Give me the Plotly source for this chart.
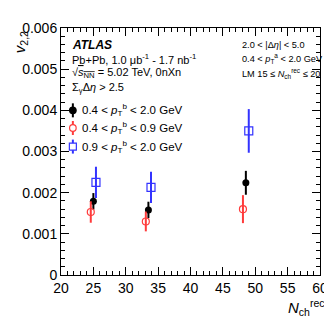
import plotly.graph_objects as go

# Data
series_names = [
    "0.4 < <i>p</i><sub>T</sub><sup>b</sup> < 2.0 GeV",
    "0.4 < <i>p</i><sub>T</sub><sup>b</sup> < 0.9 GeV",
    "0.9 < <i>p</i><sub>T</sub><sup>b</sup> < 2.0 GeV",
]
x_all = [25.0, 33.5, 48.55]
y_all = [0.00179, 0.00158, 0.00224]
e_all = [0.00020, 0.00020, 0.00029]

x_low = [24.6, 33.1, 48.1]
y_low = [0.00153, 0.00130, 0.00160]
e_low = [0.00026, 0.00024, 0.00034]

x_high = [25.4, 33.9, 49.0]
y_high = [0.00225, 0.00213, 0.00350]
e_high = [0.00038, 0.00038, 0.00053]

x_ticks = [20, 25, 30, 35, 40, 45, 50, 55, 60]
y_ticks = [0, 0.001, 0.002, 0.003, 0.004, 0.005, 0.006]
y_tick_labels = ["0", "0.001", "0.002", "0.003", "0.004", "0.005", "0.006"]

FONT = "Liberation Sans, Arial, sans-serif"
RED = "#ff3b3b"
BLUE = "#3333ff"
COLORS = ["black", RED, BLUE]

fig = go.Figure()
fig.add_trace(go.Scatter(
    x=x_all, y=y_all, mode="markers", name=series_names[0], showlegend=False,
    marker=dict(symbol="circle", size=7, color="black"),
    error_y=dict(type="data", array=e_all, width=0, thickness=2, color="black"),
))
fig.add_trace(go.Scatter(
    x=x_low, y=y_low, mode="markers", name=series_names[1], showlegend=False,
    marker=dict(symbol="circle-open", size=7, color=RED, line=dict(width=1.2, color=RED)),
    error_y=dict(type="data", array=e_low, width=0, thickness=2, color=RED),
))
fig.add_trace(go.Scatter(
    x=x_high, y=y_high, mode="markers", name=series_names[2], showlegend=False,
    marker=dict(symbol="square-open", size=8, color=BLUE, line=dict(width=1.2, color=BLUE)),
    error_y=dict(type="data", array=e_high, width=0, thickness=2, color=BLUE),
))

axis_common = dict(
    showgrid=False, zeroline=False, showline=True, linecolor="black", linewidth=1,
    mirror="ticks", ticks="inside", ticklen=8, tickcolor="black",
    tickfont=dict(family=FONT, size=14, color="black"),
)
fig.update_xaxes(range=[20, 60], tickvals=x_ticks,
                 minor=dict(dtick=1, ticks="inside", ticklen=4, tickcolor="black"),
                 **axis_common)
fig.update_yaxes(range=[0, 0.006], tickvals=y_ticks, ticktext=y_tick_labels,
                 minor=dict(dtick=0.0002, ticks="inside", ticklen=4, tickcolor="black"),
                 **axis_common)

def px(xp, yp):
    return (xp - 53) / 262, (267 - yp) / 252

ann = []
def add_text(text, xp, yp, size=11, xanchor="left", color="black"):
    x, y = px(xp, yp)
    ann.append(dict(text=text, x=x, y=y, xref="paper", yref="paper", showarrow=False,
                    xanchor=xanchor, yanchor="middle",
                    font=dict(family=FONT, size=size, color=color)))

add_text("<b><i>ATLAS</i></b>", 62, 32, size=12)
add_text("Pb+Pb, 1.0 μb<sup>-1</sup> - 1.7 nb<sup>-1</sup>", 62, 47, size=11)
add_text("√<span style='text-decoration:overline'><i>s</i><sub>NN</sub></span> = 5.02 TeV, 0nXn", 62, 61, size=11)
add_text("Σ<sub>γ</sub>Δ<i>η</i> > 2.5", 62, 76, size=11)
add_text("2.0 < |Δ<i>η</i>| < 5.0", 234, 32, size=9.2)
add_text("0.4 < <i>p</i><sub>T</sub><sup>a</sup> < 2.0 GeV", 234, 46, size=9.2)
add_text("LM 15 ≤ <i>N</i><sub>ch</sub><sup>rec</sup> ≤ 20", 234, 61, size=9.2)

# legend (manual keys + texts)
leg_y = [99, 117, 136]
symbols = ["circle-filled", "circle-open", "square-open"]
shapes = []
for name, yp, col, sym in zip(series_names, leg_y, COLORS, symbols):
    add_text(name, 72, yp, size=11.5)
    kx, ky = px(65, yp)
    shapes.append(dict(type="line", xref="paper", yref="paper", xsizemode="pixel", ysizemode="pixel",
                       xanchor=kx, yanchor=ky, x0=0, x1=0, y0=-7, y1=7,
                       line=dict(color=col, width=2)))
    if sym == "square-open":
        shapes.append(dict(type="rect", xref="paper", yref="paper", xsizemode="pixel", ysizemode="pixel",
                           xanchor=kx, yanchor=ky, x0=-3.5, x1=3.5, y0=-3.5, y1=3.5,
                           fillcolor="white", line=dict(color=col, width=1.2)))
    else:
        shapes.append(dict(type="circle", xref="paper", yref="paper", xsizemode="pixel", ysizemode="pixel",
                           xanchor=kx, yanchor=ky, x0=-3.3, x1=3.3, y0=-3.3, y1=3.3,
                           fillcolor=("black" if sym == "circle-filled" else "white"),
                           line=dict(color=col, width=1.2)))

# axis titles
x, y = px(12, 29)
ann.append(dict(text="<i>v</i><sub>2,2</sub>", x=x, y=y, xref="paper", yref="paper",
                showarrow=False, textangle=-90, xanchor="center", yanchor="middle",
                font=dict(family=FONT, size=15, color="black")))
x, y = px(301, 300)
ann.append(dict(text="<i>N</i><sub>ch</sub><sup>rec</sup>", x=x, y=y, xref="paper", yref="paper",
                showarrow=False, xanchor="center", yanchor="middle",
                font=dict(family=FONT, size=15, color="black")))

fig.update_layout(
    width=332, height=319,
    margin=dict(l=53, r=17, t=15, b=52),
    paper_bgcolor="white", plot_bgcolor="white",
    annotations=ann,
    shapes=shapes,
    showlegend=False,
)

fig.write_html("out.html")
